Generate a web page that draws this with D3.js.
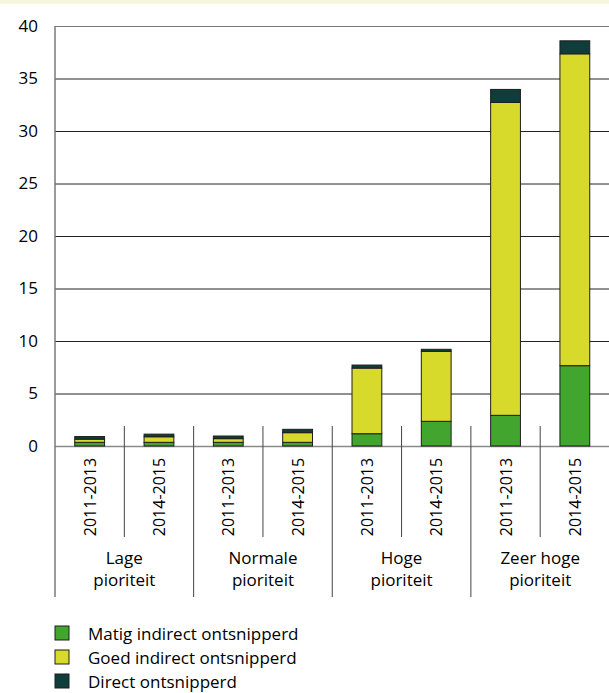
<!DOCTYPE html>
<html lang="nl">
<head>
  <meta charset="UTF-8">
  <title>Ontsnippering per prioriteit</title>
  <script src="https://d3js.org/d3.v7.min.js"></script>
  <style>
    body { margin: 0; background: #fff; }
    svg { display: block; font-family: "Open Sans", sans-serif; }
  </style>
</head>
<body>
  <svg width="609" height="693"></svg>
  <script>
  // data
  var groups = [["Lage", "pioriteit"], ["Normale", "pioriteit"], ["Hoge", "pioriteit"], ["Zeer hoge", "pioriteit"]];
  var periods = ["2011-2013", "2014-2015"];
  var matig  = [0.35, 0.35, 0.35, 0.35, 1.17, 2.35, 2.92, 7.65];
  var goed   = [0.30, 0.53, 0.35, 0.92, 6.25, 6.67, 29.8, 29.7];
  var direct = [0.25, 0.25, 0.25, 0.32, 0.29, 0.19, 1.24, 1.24];
  var seriesNames = ["Matig indirect ontsnipperd", "Goed indirect ontsnipperd", "Direct ontsnipperd"];
  var colors = ["#42a62e", "#d7da2b", "#0e3d3a"];
  var yTicks = [0, 5, 10, 15, 20, 25, 30, 35, 40];

  var svg = d3.select("svg"),
      margin = {top: 26, left: 55},
      plotW = 554.5,
      zeroY = 446;

  // thin cream strip at the top
  svg.append("rect").attr("x", 0).attr("y", 0).attr("width", 609).attr("height", 4).attr("fill", "#f6f6df");

  var g = svg.append("g").attr("transform", "translate(" + margin.left + ",0)");

  var rows = [];
  groups.forEach(function(gr, i) {
    periods.forEach(function(p, j) {
      var k = i * 2 + j;
      rows.push({key: k, group: i, period: p, vals: [matig[k], goed[k], direct[k]]});
    });
  });

  var x = d3.scaleBand().domain(rows.map(function(d) { return d.key; })).range([0, plotW]).padding(0);
  var y = d3.scaleLinear().domain([0, 40]).range([zeroY, margin.top]);
  var barW = x.bandwidth() * 0.43;

  // gridlines + tick labels
  var yAxis = g.append("g")
      .call(d3.axisLeft(y).tickValues(yTicks).tickSize(-plotW).tickPadding(17));
  yAxis.select(".domain").remove();
  yAxis.selectAll(".tick line").attr("stroke", function(d) { return d === 0 ? "#8a8a8a" : (d === 40 ? "#777" : "#222"); })
      .attr("stroke-width", function(d) { return d === 0 ? 1.6 : 1; });
  yAxis.selectAll(".tick text").attr("font-family", "Open Sans").attr("font-size", 17).attr("fill", "#000");

  // stacked bars
  var stack = d3.stack().keys([0, 1, 2]).value(function(d, key) { return d.vals[key]; });
  var layers = stack(rows);
  g.selectAll(".layer").data(layers).enter().append("g")
      .attr("fill", function(d, i) { return colors[i]; })
    .selectAll("rect").data(function(d) { return d; }).enter().append("rect")
      .attr("x", function(d) { return x(d.data.key) + (x.bandwidth() - barW) / 2; })
      .attr("width", barW)
      .attr("y", function(d) { return y(d[1]); })
      .attr("height", function(d) { return y(d[0]) - y(d[1]); })
      .attr("stroke", "#1e1e1e")
      .attr("stroke-width", 1);

  // left axis line
  g.append("line").attr("x1", 0).attr("x2", 0).attr("y1", margin.top).attr("y2", 597)
      .attr("stroke", "#7a7a7a").attr("stroke-width", 1.5);

  // category separators
  var seps = d3.range(1, rows.length);
  g.selectAll(".sep").data(seps).enter().append("line")
      .attr("x1", function(d) { return x(d); })
      .attr("x2", function(d) { return x(d); })
      .attr("y1", 426)
      .attr("y2", function(d) { return d % 2 === 0 ? 597 : 537; })
      .attr("stroke", "#444").attr("stroke-width", 1);

  // period labels (rotated)
  g.selectAll(".per").data(rows).enter().append("text")
      .attr("transform", function(d) { return "translate(" + (x(d.key) + x.bandwidth() / 2) + ",497) rotate(-90)"; })
      .attr("text-anchor", "middle")
      .attr("dominant-baseline", "central")
      .attr("font-size", 16)
      .attr("fill", "#000")
      .text(function(d) { return d.period; });

  // group labels
  groups.forEach(function(gr, i) {
    var cx = x(i * 2) + x.bandwidth();
    var t = g.append("text").attr("text-anchor", "middle").attr("font-size", 17).attr("fill", "#000");
    gr.forEach(function(line, li) {
      t.append("tspan").attr("x", cx).attr("y", 564 + li * 22).text(line);
    });
  });

  // legend
  var leg = svg.append("g").attr("transform", "translate(55,626)");
  var item = leg.selectAll("g").data(seriesNames).enter().append("g")
      .attr("transform", function(d, i) { return "translate(0," + (i * 24) + ")"; });
  item.append("rect").attr("width", 14).attr("height", 14)
      .attr("fill", function(d, i) { return colors[i]; })
      .attr("stroke", "#1e1e1e").attr("stroke-width", 1);
  item.append("text").attr("x", 33).attr("y", 7).attr("dominant-baseline", "central")
      .attr("font-size", 17).attr("fill", "#000")
      .text(function(d) { return d; });
  </script>
</body>
</html>
